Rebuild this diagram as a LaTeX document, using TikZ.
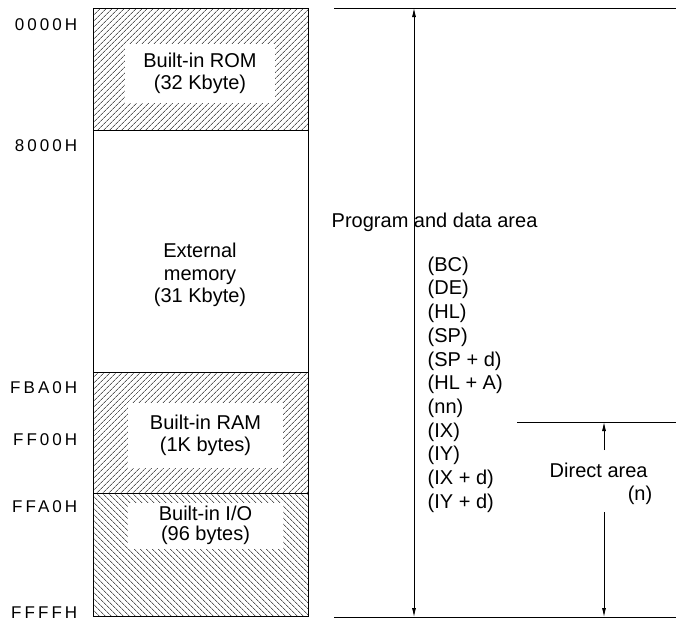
\documentclass[tikz,border=0pt]{standalone}
\usepackage{fontspec}
\setmainfont{Liberation Sans}
\newfontfamily\hexfont[LetterSpace=18]{Liberation Sans}
\usetikzlibrary{arrows.meta,patterns.meta}

\begin{document}
\begin{tikzpicture}[x=1pt,y=-1pt,line width=0.8pt,
  addr/.style={anchor=east,font=\fontsize{17}{20}\hexfont},
  block/.style={draw,minimum width=215pt,inner sep=0pt},
  hatchne/.style={pattern={Lines[angle=45,distance=4pt,line width=0.55pt]}},
  hatchnw/.style={pattern={Lines[angle=-45,distance=4pt,line width=0.55pt]}},
  blank/.style={fill=white,align=center,inner sep=0pt,font=\fontsize{20}{22.5}\selectfont},
  reg/.style={anchor=west,font=\fontsize{20}{22}\selectfont},
  dimarrow/.style={{Latex[length=9pt,width=4pt]}-{Latex[length=9pt,width=4pt]}},
  uparrow/.style={-{Latex[length=9pt,width=4pt]}}]
\useasboundingbox (0,0) rectangle (676,624);
% memory map
\node[block,hatchne,minimum height=122pt] (rom) at (200.5,69) {};
\node[block,minimum height=242pt] (ext) at (200.5,251) {};
\node[block,hatchne,minimum height=121pt] (ram) at (200.5,432.5) {};
\node[block,hatchnw,minimum height=123pt] (io) at (200.5,554.5) {};
\node[blank,minimum width=150pt,minimum height=59pt] (romtxt) at (200,73.5) {Built-in ROM\\(32 Kbyte)};
\node[blank] (exttxt) at (200,275) {External\\memory\\(31 Kbyte)};
\node[blank,minimum width=155pt,minimum height=65pt] (ramtxt) at (205.5,435.5) {Built-in RAM\\(1K bytes)};
\node[blank,minimum width=155pt,minimum height=46pt,font=\fontsize{20}{20.5}\selectfont] (iotxt) at (205.5,525.5) {Built-in I/O\\(96 bytes)};
% addresses
\node[addr] (a0) at (81,25) {0000H};
\node[addr] (a1) at (81,146) {8000H};
\node[addr] (a2) at (81,388) {FBA0H};
\node[addr] (a3) at (81,440) {FF00H};
\node[addr] (a4) at (81,507) {FFA0H};
\node[addr] (a5) at (81,613) {FFFFH};
% program and data area
\coordinate (topl) at (334,8);
\coordinate (topr) at (676,8);
\coordinate (botl) at (334,617);
\coordinate (botr) at (676,617);
\coordinate (pdtop) at (414,8);
\coordinate (pdbot) at (414,617);
\draw (topl) -- (topr);
\draw (botl) -- (botr);
\draw[dimarrow] (pdtop) -- (pdbot);
\node[reg] (pd) at (328,222) {Program and data area};
\node[reg,align=left,anchor=north west,font=\fontsize{20}{23.7}\selectfont] (regs) at (424,253)
  {(BC)\\(DE)\\(HL)\\(SP)\\(SP + d)\\(HL + A)\\(nn)\\(IX)\\(IY)\\(IX + d)\\(IY + d)};
% direct area
\coordinate (dirl) at (517,422);
\coordinate (dirr) at (676,422);
\coordinate (dtop) at (604,422);
\coordinate (dup) at (604,450);
\coordinate (ddown) at (604,512);
\coordinate (dbot) at (604,617);
\draw (dirl) -- (dirr);
\draw[uparrow] (dup) -- (dtop);
\draw[uparrow] (ddown) -- (dbot);
\node[reg] (da) at (546,470) {Direct area};
\node[anchor=east,font=\fontsize{20}{22}\selectfont] (dn) at (656,495) {(n)};
\end{tikzpicture}
\end{document}
